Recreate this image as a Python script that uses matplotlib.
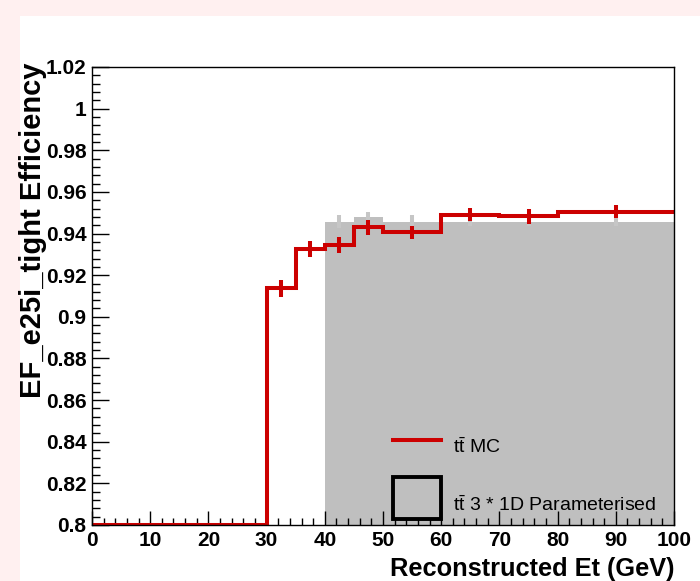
import numpy as np
import matplotlib
matplotlib.use('Agg')
import matplotlib.pyplot as plt
from matplotlib.patches import Rectangle
from matplotlib.ticker import MultipleLocator

plt.rcParams['font.family'] = ['Liberation Sans', 'DejaVu Sans']
plt.rcParams['mathtext.fontset'] = 'custom'
plt.rcParams['mathtext.rm'] = 'Liberation Sans'
plt.rcParams['mathtext.it'] = 'Liberation Sans'

# ttbar MC efficiency
mc_edges = [0, 30, 35, 40, 45, 50, 60, 70, 80, 100]
mc_eff = [0.0, 0.9137, 0.9324, 0.9345, 0.943, 0.9406, 0.949, 0.9484, 0.9505]
mc_err = [0.0, 0.004, 0.0038, 0.0037, 0.0037, 0.0032, 0.0032, 0.0036, 0.0032]

# parameterised efficiency (3 * 1D)
par_edges = [40, 45, 50, 60, 70, 80, 100]
par_eff = [0.9457, 0.9478, 0.9457, 0.9457, 0.9457, 0.9457]
par_err = [0.003, 0.0027, 0.0032, 0.002, 0.002, 0.002]

ymin, ymax = 0.8, 1.02
red = '#cc0000'
grey = '#bfbfbf'
lw = 2.9

fig = plt.figure(figsize=(7, 5.81), dpi=100)
fig.patch.set_facecolor('#fff0f0')
fig.patches.append(Rectangle((20 / 700, 0), 680 / 700, 1 - 16 / 581,
                             transform=fig.transFigure, facecolor='white',
                             edgecolor='none', zorder=-10))

ax = fig.add_axes([92 / 700, 1 - 525 / 581, 582 / 700, 458 / 581])
ax.set_facecolor('none')

# grey filled histogram
pe = np.array(par_edges, dtype=float)
pv = np.array(par_eff)
ax.stairs(pv, pe, baseline=ymin, fill=True, color=grey, zorder=1)
pc = (pe[:-1] + pe[1:]) / 2
ax.vlines(pc, pv - np.array(par_err), pv + np.array(par_err),
          color='#c6c6c6', lw=lw, zorder=1)

# red MC histogram with error bars
me = np.array(mc_edges, dtype=float)
mv = np.maximum(np.array(mc_eff), ymin)
ax.stairs(mv, me, baseline=None, color=red, lw=lw, zorder=3)
mc = (me[:-1] + me[1:]) / 2
merr = np.array(mc_err)
sel = merr > 0
ax.vlines(mc[sel], mv[sel] - merr[sel], mv[sel] + merr[sel],
          color=red, lw=lw, zorder=3)

ax.set_xlim(0, 100)
ax.set_ylim(ymin, ymax)
ax.xaxis.set_major_locator(MultipleLocator(10))
ax.xaxis.set_minor_locator(MultipleLocator(2))
ax.yaxis.set_minor_locator(MultipleLocator(0.004))
ax.set_yticks(np.arange(0.8, 1.0201, 0.02))
ax.set_yticklabels(['0.8', '0.82', '0.84', '0.86', '0.88', '0.9', '0.92',
                    '0.94', '0.96', '0.98', '1', '1.02'])
ax.tick_params(axis='x', which='major', direction='in', length=10, width=1,
               pad=4, labelsize=15)
ax.tick_params(axis='x', which='minor', direction='in', length=5, width=1)
ax.tick_params(axis='y', which='major', direction='in', length=12.5, width=1,
               pad=4, labelsize=15)
ax.tick_params(axis='y', which='minor', direction='in', length=6, width=1)
for lab in ax.get_xticklabels() + ax.get_yticklabels():
    lab.set_fontweight('bold')
for s in ax.spines.values():
    s.set_linewidth(1)
    s.set_zorder(5)

ax.set_xlabel('Reconstructed Et (GeV)', fontsize=18.3, fontweight='bold')
ax.xaxis.set_label_coords(1.0, -0.097)
ax.xaxis.label.set_horizontalalignment('right')
ax.xaxis.label.set_verticalalignment('center')
ax.set_ylabel('EF_e25i_tight Efficiency', fontsize=21, fontweight='bold')
ax.yaxis.set_label_coords(-0.101, 1.01)
ax.yaxis.label.set_verticalalignment('center')
ax.yaxis.label.set_horizontalalignment('right')

# legend, drawn by hand in axes fraction
tr = ax.transAxes
ax.plot([0.517, 0.600], [0.186, 0.186], color=red, lw=lw, transform=tr,
        clip_on=False, zorder=6)
ax.text(0.620, 0.170, r'$\mathregular{t\bar{t}}$ MC', transform=tr,
        fontsize=14, va='center', ha='left', zorder=6)
ax.add_patch(Rectangle((0.517, 0.013), 0.083, 0.092, transform=tr,
                       facecolor='none', edgecolor='black', lw=2.8, zorder=6))
ax.text(0.620, 0.044, r'$\mathregular{t\bar{t}}$ 3 * 1D Parameterised',
        transform=tr, fontsize=14, va='center', ha='left', zorder=6)

fig.savefig('out.png', dpi=100, facecolor=fig.get_facecolor())
